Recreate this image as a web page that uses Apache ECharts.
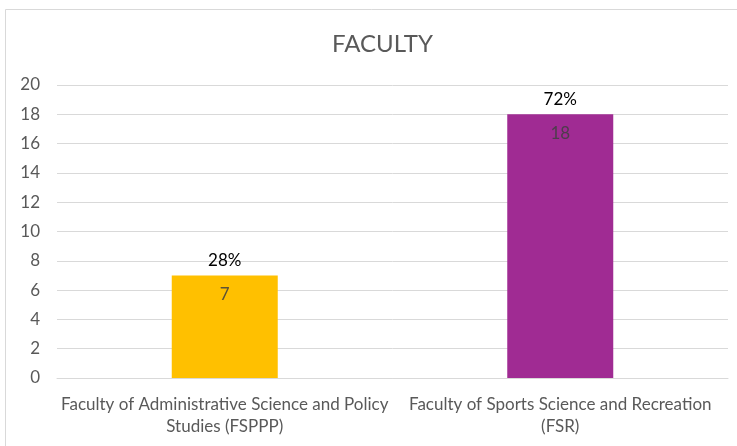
<!DOCTYPE html>
<html><head><meta charset="utf-8">
<script src="https://cdn.jsdelivr.net/npm/echarts@6/dist/echarts.min.js"></script>
<style>html,body{margin:0;padding:0;background:#fff}#c{width:737px;height:446px}</style>
</head><body><div id="c"></div>
<script>
const categories = ["Faculty of Administrative Science and Policy\nStudies (FSPPP)", "Faculty of Sports Science and Recreation\n(FSR)"];
const counts = [7, 18];
const percents = ["28%", "72%"];
const colors = ["#FFC000", "#A02B93"];
const yTicks = {min: 0, max: 20, interval: 2};

const font = "Lato, 'Open Sans', sans-serif";
const chart = echarts.init(document.getElementById('c'), null, {renderer: 'canvas'});
chart.setOption({
  animation: false,
  backgroundColor: '#fff',
  graphic: [{type: 'rect', shape: {x: 5.5, y: 9.5, width: 740, height: 445}, style: {fill: 'none', stroke: '#d9d9d9', lineWidth: 1}}],
  title: {text: 'FACULTY', left: 327, top: 27, textStyle: {fontFamily: font, fontSize: 24, fontWeight: 'normal', color: '#595959'}},
  grid: {left: 57, right: 9, top: 85, bottom: 68},
  xAxis: {type: 'category', data: categories,
    axisLine: {lineStyle: {color: '#d9d9d9'}}, axisTick: {show: false},
    axisLabel: {fontFamily: font, fontSize: 17, color: '#595959', lineHeight: 22, margin: 16, interval: 0}},
  yAxis: {type: 'value', min: yTicks.min, max: yTicks.max, interval: yTicks.interval,
    axisLine: {show: false}, axisTick: {show: false},
    splitLine: {lineStyle: {color: '#d9d9d9', width: 1}},
    axisLabel: {fontFamily: font, fontSize: 17, color: '#595959', margin: 17}},
  series: [
    {type: 'bar', barWidth: 106,
     data: counts.map((v, i) => ({value: v, itemStyle: {color: colors[i]}})),
     label: {show: true, position: 'insideTop', distance: 11, fontFamily: font, fontSize: 17, color: 'rgba(64,64,64,0.85)'}},
    {type: 'bar', barWidth: 106, barGap: '-100%',
     data: counts.map(v => ({value: v, itemStyle: {color: 'rgba(0,0,0,0)'}})),
     label: {show: true, position: 'top', distance: 6, fontFamily: font, fontSize: 17, color: '#000',
       formatter: p => percents[p.dataIndex]}}
  ]
});
</script></body></html>
